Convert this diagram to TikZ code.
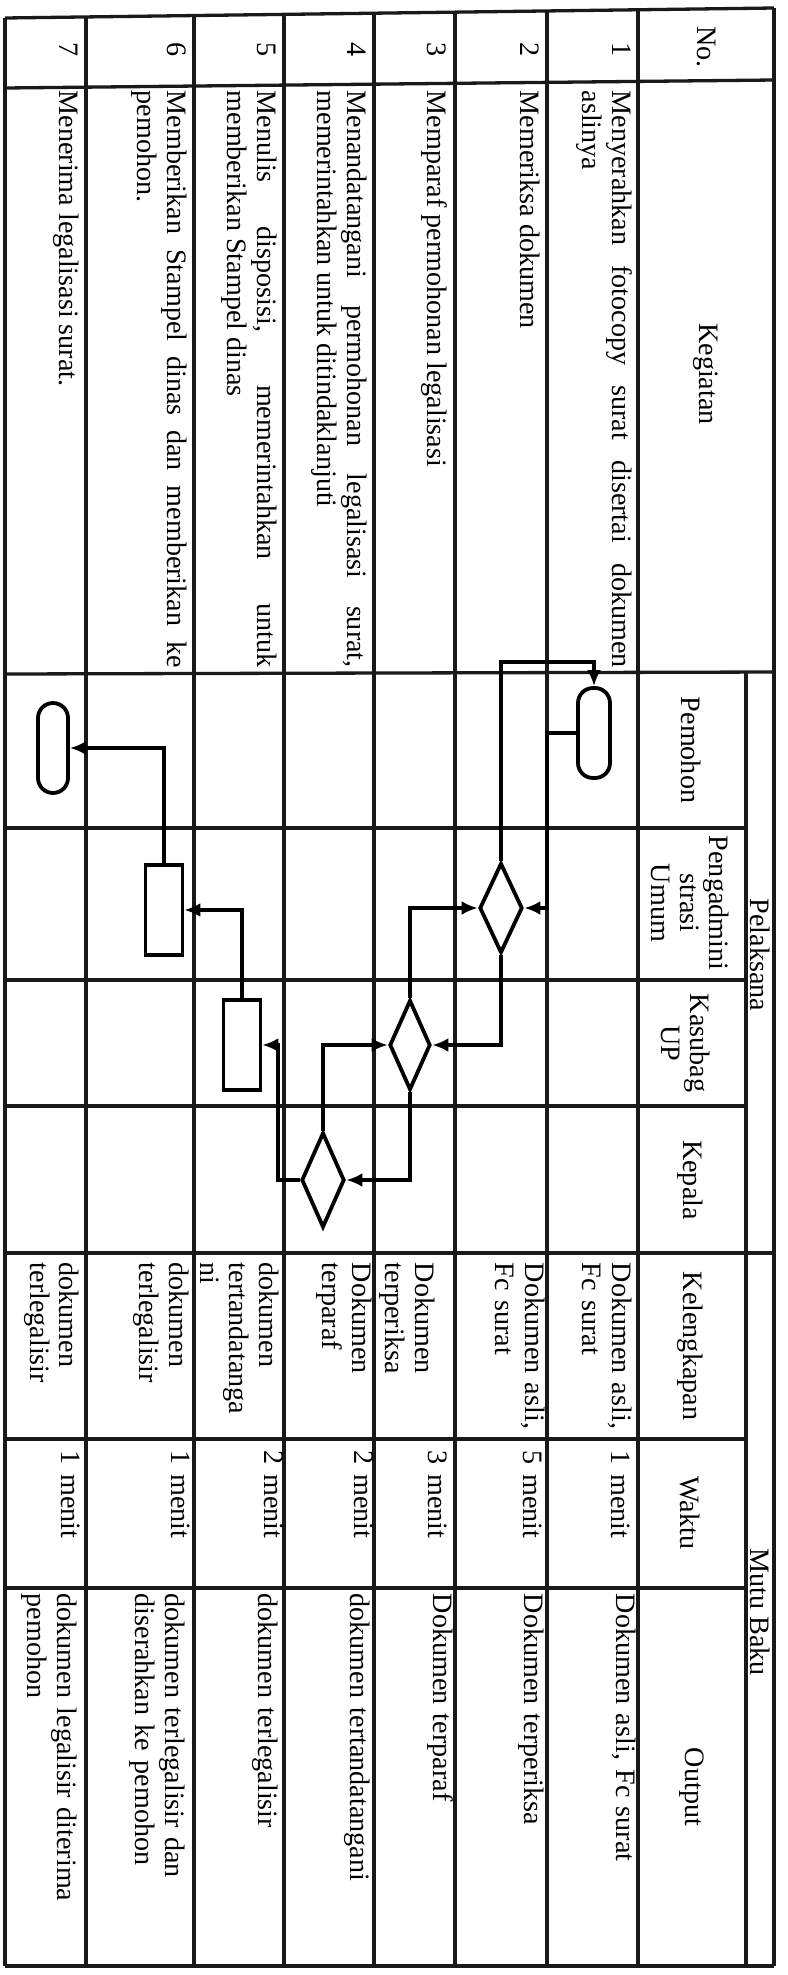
\documentclass[tikz,border=0pt]{standalone}
\usepackage{fontspec}
\setmainfont{Liberation Serif}
\usetikzlibrary{shapes.geometric,arrows.meta}
\tolerance=9999
\hyphenpenalty=10000
\hbadness=10000
\begin{document}
\begin{tikzpicture}[x=0.1mm,y=-0.1mm,
  tline/.style={line width=0.33mm, black!90},
  flow/.style={line width=0.42mm, -{Latex[length=1.6mm,width=1.4mm]}},
  cell/.style={rotate=-90, anchor=base west, inner sep=0pt, align=left, text width=#1, font=\fontsize{8}{8.3}\selectfont},
  cell/.default=40mm,
  num/.style={rotate=-90, anchor=base, inner sep=0pt, font=\fontsize{8}{8.3}\selectfont},
  head/.style={rotate=-90, anchor=center, inner sep=0pt, align=center, font=\fontsize{8}{8.3}\selectfont},
  term/.style={draw, line width=0.38mm, rectangle, rounded corners=1.5mm, minimum width=3.2mm, minimum height=9mm, inner sep=0pt},
  dec/.style={draw, line width=0.38mm, diamond, minimum width=4.3mm, minimum height=9mm, inner sep=0pt},
  proc/.style={draw, line width=0.38mm, rectangle, minimum width=3.7mm, minimum height=9mm, inner sep=0pt},
]
\useasboundingbox (0,0) rectangle (787,1975);
\fill[white] (0,0) rectangle (787,1975);

% ---------- table grid ----------
\foreach \x/\t in {5/18,86/17,194/15.5,284/14.4,374/13.2,455/12.1,547/11,638/9.8,774/8}
  \draw[tline] (\x,\t) -- (\x,1966);
\draw[tline] (5,18) -- (774,8);
\draw[tline] (5,88) -- (774,80);
\draw[tline] (5,674) -- (774,672);
\draw[tline] (746,672) -- (746,1966);
\foreach \y in {828,980,1106,1439,1588}
  \draw[tline] (5,\y) -- (746,\y);
\draw[tline] (5,1253) -- (774,1253);
\draw[tline] (5,1966) -- (774,1966);

% ---------- headers ----------
\node[head] (hno) at (706,47) {No.};
\node[head] (hkeg) at (706,374) {Kegiatan};
\node[head] (hpel) at (760,955) {Pelaksana};
\node[head] (hmutu) at (760,1612) {Mutu Baku};
\node[head] (hpem) at (691,750) {Pemohon};
\node[head] (hpeng) at (690,903) {Pengadmini\\strasi\\Umum};
\node[head] (hkas) at (686,1043) {Kasubag\\UP};
\node[head] (hkep) at (690,1180) {Kepala};
\node[head] (hkel) at (690,1346) {Kelengkapan};
\node[head] (hwak) at (690,1513) {Waktu};
\node[head] (hout) at (692,1787) {Output};

% ---------- numbers ----------
\node[num] (n1) at (612,50) {1};
\node[num] (n2) at (520,50) {2};
\node[num] (n3) at (427,50) {3};
\node[num] (n4) at (347,50) {4};
\node[num] (n5) at (257,50) {5};
\node[num] (n6) at (167,50) {6};
\node[num] (n7) at (59,50) {7};

% ---------- Kegiatan ----------
\node[cell=57.7mm, align=justify] (k1) at (612,90) {Menyerahkan fotocopy surat disertai dokumen\linebreak aslinya};
\node[cell=57.7mm, align=justify] (k2) at (520,90) {Memeriksa dokumen};
\node[cell=57.7mm, align=justify] (k3) at (427,90) {Memparaf permohonan legalisasi};
\node[cell=57.7mm, align=justify] (k4) at (347,90) {Menandatangani permohonan legalisasi surat,\linebreak memerintahkan untuk ditindaklanjuti};
\node[cell=57.7mm, align=justify] (k5) at (257,90) {Menulis disposisi, memerintahkan untuk\linebreak memberikan Stampel dinas};
\node[cell=57.7mm, align=justify] (k6) at (167,90) {Memberikan Stampel dinas dan memberikan ke\linebreak pemohon.};
\node[cell=57.7mm, align=justify] (k7) at (59,90) {Menerima legalisasi surat.};

% ---------- Kelengkapan ----------
\node[cell=18mm] (l1) at (612,1262) {Dokumen asli,\\Fc surat};
\node[cell=18mm] (l2) at (525,1262) {Dokumen asli,\\Fc surat};
\node[cell=18mm] (l3) at (415,1262) {Dokumen\\terperiksa};
\node[cell=18mm] (l4) at (352,1262) {Dokumen\\terparaf};
\node[cell=18mm] (l5) at (259,1262) {dokumen\\tertandatanga\\ni};
\node[cell=18mm] (l6) at (169,1262) {dokumen\\terlegalisir};
\node[cell=18mm] (l7) at (60,1262) {dokumen\\terlegalisir};

% ---------- Waktu ----------
\node[cell=14mm] (w1) at (611,1450) {1 menit};
\node[cell=14mm] (w2) at (523,1450) {5 menit};
\node[cell=14mm] (w3) at (428,1450) {3 menit};
\node[cell=14mm] (w4) at (354,1450) {2 menit};
\node[cell=14mm] (w5) at (264,1450) {2 menit};
\node[cell=14mm] (w6) at (171,1450) {1 menit};
\node[cell=14mm] (w7) at (61,1450) {1 menit};

% ---------- Output ----------
\node[cell=36mm] (o1) at (616,1593) {Dokumen asli, Fc surat};
\node[cell=36mm] (o2) at (524,1593) {Dokumen terperiksa};
\node[cell=36mm] (o3) at (433,1593) {Dokumen terparaf};
\node[cell=36mm] (o4) at (350,1593) {dokumen tertandatangani};
\node[cell=36mm] (o5) at (258,1593) {dokumen terlegalisir};
\node[cell=36mm] (o6) at (165,1593) {dokumen terlegalisir dan\\diserahkan ke pemohon};
\node[cell=36mm] (o7) at (57,1593) {dokumen legalisir diterima\\pemohon};

% ---------- flow shapes ----------
\node[term] (T1) at (594,733) {};
\node[dec] (D1) at (501,908) {};
\node[dec, minimum width=4.1mm] (D2) at (410,1045) {};
\node[dec, minimum height=9.5mm] (D3) at (323,1180) {};
\node[proc] (R1) at (242,1045) {};
\node[proc] (R2) at (164,910) {};
\node[term, minimum width=3.0mm] (T2) at (53,748) {};

\coordinate (b12) at (547,0);
\coordinate (btop) at (0,662);
\coordinate (b45) at (278,0);

% ---------- connectors ----------
\draw[flow] (T1.west) -- (T1.west -| b12) |- (D1.east);
\draw[flow] (D1.north) -- (D1.north |- btop) -| (T1.north);
\draw[flow] (D1.south) |- (D2.east);
\draw[flow] (D2.north) |- (D1.west);
\draw[flow] (D2.south) |- (D3.east);
\draw[flow] (D3.north) |- (D2.west);
\draw[flow] (D3.west) -- (D3.west -| b45) |- (R1.east);
\draw[flow] (R1.north) |- (R2.east);
\draw[flow] (R2.north) |- (T2.east);
\end{tikzpicture}
\end{document}
